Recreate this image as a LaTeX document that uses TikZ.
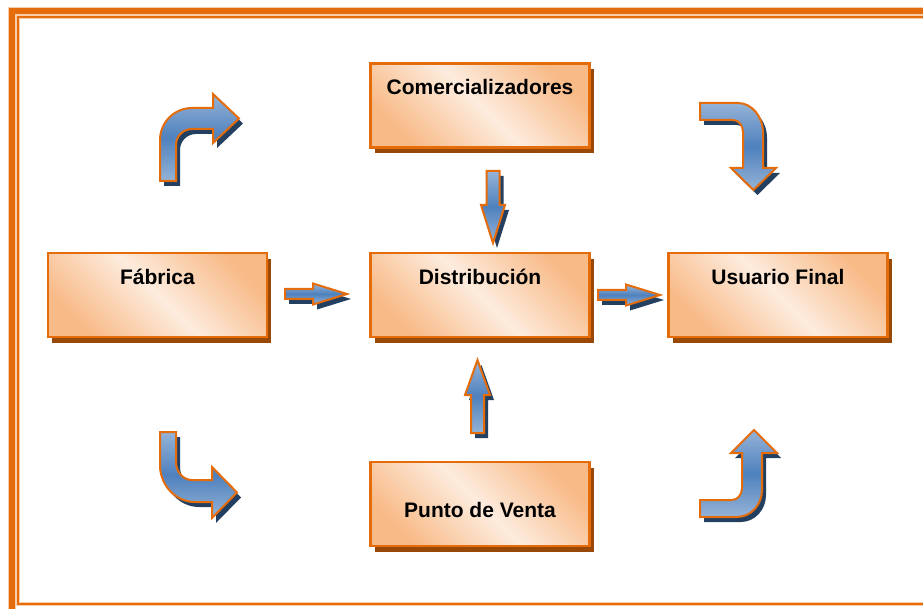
\documentclass[tikz,border=0pt]{standalone}
\usepackage{fontspec}
\setmainfont{Liberation Sans}
\definecolor{frameorange}{RGB}{228,108,10}
\definecolor{framelight}{RGB}{250,205,170}
\definecolor{boxdark}{RGB}{248,186,135}
\definecolor{boxlight}{RGB}{253,236,222}
\definecolor{boxshade}{RGB}{152,72,7}
\definecolor{arrowlight}{RGB}{149,179,215}
\definecolor{arrowdark}{RGB}{79,129,189}
\definecolor{arrowshade}{RGB}{36,64,97}

\begin{document}
\begin{tikzpicture}[x=1pt,y=-1pt,
  box/.style={draw=frameorange, line width=2.2pt, minimum width=219pt,
    minimum height=84pt, inner sep=0pt,
    top color=boxdark, bottom color=boxdark, middle color=boxlight,
    shading angle=-45,
    preaction={fill=boxshade, transform canvas={shift={(4pt,-6pt)}}}},
  lbl/.style={font=\fontsize{21}{25}\selectfont\bfseries, inner sep=0pt,
    anchor=base},
  blockarrow/.style={draw=frameorange, line width=2pt, line join=miter,
    top color=arrowlight, bottom color=arrowlight, middle color=arrowdark,
    preaction={fill=arrowshade, transform canvas={shift={(4pt,-5pt)}}}}]

\useasboundingbox (0,0) rectangle (923,609);

% double page frame
\draw[framelight, line width=8pt, line join=miter] (12,609) -- (12,11) -- (923,11);
\draw[frameorange, line width=6pt, line join=miter] (12,609) -- (12,11) -- (923,11);
\draw[framelight, line width=3.5pt, line join=miter] (923,604) -- (18,604) -- (18,17) -- (923,17);
\draw[frameorange, line width=2pt, line join=miter] (923,604) -- (18,604) -- (18,17) -- (923,17);

% boxes
\node[box] (com) at (480,105.5) {};
\node[box] (fab) at (157.5,295) {};
\node[box] (dis) at (480,295) {};
\node[box] (usu) at (778,295) {};
\node[box] (pun) at (480,504) {};

\node[lbl] (comlbl) at ([shift={(0,32.5)}]com.north) {Comercializadores};
\node[lbl] (fablbl) at ([shift={(0,32.5)}]fab.north) {Fábrica};
\node[lbl] (dislbl) at ([shift={(0,32.5)}]dis.north) {Distribución};
\node[lbl] (usulbl) at ([shift={(0,32.5)}]usu.north) {Usuario Final};
\node[lbl] (punlbl) at ([shift={(0,57)}]pun.north) {Punto de Venta};

% straight block arrows
\draw[blockarrow] (285,289) -- (313,289) -- (313,283.5) -- (347,294)
  -- (313,304.5) -- (313,299) -- (285,299) -- cycle;
\draw[blockarrow] (598,290) -- (626,290) -- (626,284.5) -- (660,295)
  -- (626,305.5) -- (626,300) -- (598,300) -- cycle;
\draw[blockarrow] (486.5,171) -- (499.5,171) -- (499.5,205) -- (505,205)
  -- (493,243) -- (481,205) -- (486.5,205) -- cycle;
\draw[blockarrow] (471,433) -- (484,433) -- (484,395) -- (490,395)
  -- (477.5,360) -- (465,395) -- (471,395) -- cycle;

% bent block arrows
\draw[blockarrow] (160,181) -- (160,140)
  arc[start angle=180, end angle=270, radius=32]
  -- (213,108) -- (213,94) -- (239,118.5) -- (213,143) -- (213,129) -- (192,129)
  arc[start angle=270, end angle=180, radius=16]
  -- (176,181) -- cycle;

\draw[blockarrow] (700,103) -- (738,103)
  arc[start angle=270, end angle=360, x radius=25, y radius=30]
  -- (763,168) -- (776,168) -- (753.5,190) -- (731,168) -- (743,168) -- (743,132)
  arc[start angle=0, end angle=-90, x radius=10, y radius=12]
  -- (700,120) -- cycle;

\draw[blockarrow] (160,432) -- (176,432) -- (176,462)
  arc[start angle=180, end angle=90, x radius=16, y radius=18]
  -- (212,480) -- (212,467) -- (237,492.5) -- (212,518) -- (212,502) -- (195,502)
  arc[start angle=90, end angle=180, x radius=35, y radius=37]
  -- cycle;

\draw[blockarrow] (700,500) -- (732,500)
  arc[start angle=90, end angle=0, x radius=10, y radius=12]
  -- (742,453) -- (731,453) -- (754,430) -- (777,453) -- (762,453) -- (762,490)
  arc[start angle=0, end angle=90, x radius=25, y radius=27]
  -- (700,517) -- cycle;

\end{tikzpicture}
\end{document}
